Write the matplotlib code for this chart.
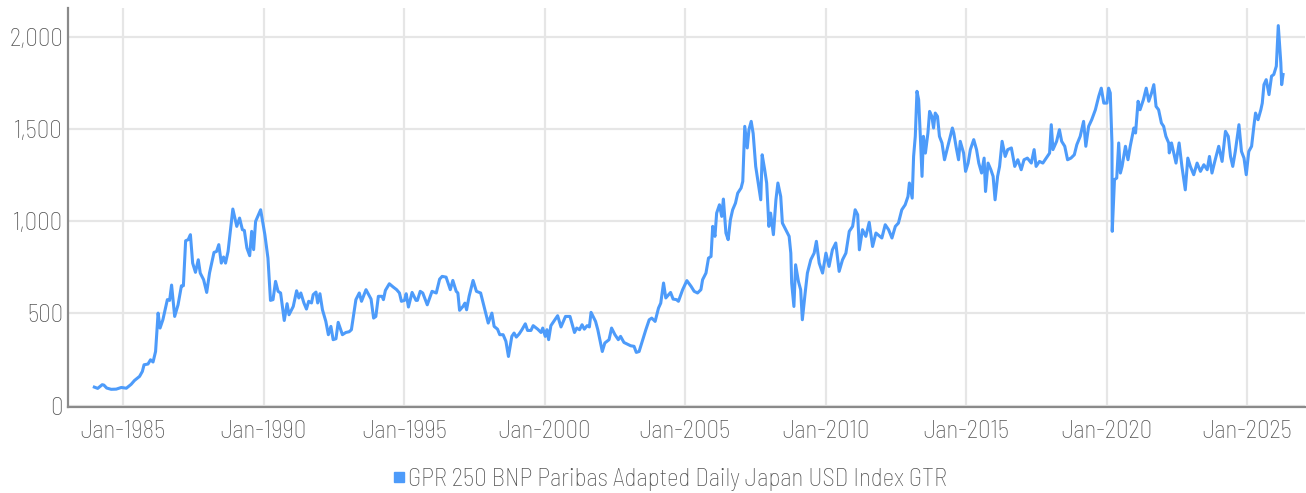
import numpy as np
import matplotlib
matplotlib.use("Agg")
import matplotlib.pyplot as plt
from matplotlib.lines import Line2D

# decimal years and index levels
years = [
    1983.97, 1984.09, 1984.25, 1984.31, 1984.41, 1984.57, 1984.75, 1984.93, 1985.11, 1985.28,
    1985.40, 1985.58, 1985.68, 1985.74, 1985.88, 1985.97, 1986.06, 1986.15, 1986.24, 1986.31,
    1986.41, 1986.57, 1986.65, 1986.72, 1986.83, 1986.95, 1987.07, 1987.14, 1987.22, 1987.31,
    1987.39, 1987.47, 1987.57, 1987.67, 1987.74, 1987.86, 1987.97, 1988.07, 1988.23, 1988.32,
    1988.40, 1988.49, 1988.57, 1988.64, 1988.73, 1988.90, 1989.04, 1989.14, 1989.24, 1989.31,
    1989.40, 1989.50, 1989.57, 1989.64, 1989.71, 1989.89, 1990.04, 1990.15, 1990.24, 1990.33,
    1990.42, 1990.51, 1990.60, 1990.73, 1990.83, 1990.90, 1991.05, 1991.17, 1991.25, 1991.32,
    1991.43, 1991.52, 1991.60, 1991.70, 1991.76, 1991.86, 1991.92, 1992.00, 1992.09, 1992.21,
    1992.30, 1992.39, 1992.47, 1992.57, 1992.65, 1992.80, 1992.92, 1993.04, 1993.12, 1993.28,
    1993.40, 1993.48, 1993.64, 1993.82, 1993.91, 1993.99, 1994.08, 1994.21, 1994.26, 1994.33,
    1994.47, 1994.61, 1994.73, 1994.83, 1994.90, 1995.01, 1995.07, 1995.15, 1995.28, 1995.42,
    1995.47, 1995.57, 1995.66, 1995.82, 1995.99, 1996.14, 1996.26, 1996.35, 1996.49, 1996.64,
    1996.73, 1996.85, 1996.91, 1996.97, 1997.09, 1997.16, 1997.22, 1997.31, 1997.45, 1997.57,
    1997.72, 1997.84, 1997.99, 1998.12, 1998.20, 1998.32, 1998.40, 1998.52, 1998.62, 1998.71,
    1998.83, 1998.91, 1998.99, 1999.09, 1999.19, 1999.31, 1999.39, 1999.51, 1999.59, 1999.75,
    1999.87, 1999.93, 2000.02, 2000.08, 2000.14, 2000.22, 2000.46, 2000.58, 2000.74, 2000.90,
    2001.06, 2001.14, 2001.24, 2001.33, 2001.41, 2001.51, 2001.59, 2001.65, 2001.81, 2001.89,
    2002.05, 2002.14, 2002.29, 2002.38, 2002.50, 2002.62, 2002.70, 2002.82, 2003.06, 2003.18,
    2003.26, 2003.36, 2003.60, 2003.72, 2003.81, 2003.93, 2004.05, 2004.13, 2004.23, 2004.31,
    2004.48, 2004.57, 2004.69, 2004.76, 2004.91, 2005.06, 2005.21, 2005.32, 2005.44, 2005.56,
    2005.62, 2005.74, 2005.83, 2005.92, 2005.98, 2006.06, 2006.12, 2006.22, 2006.30, 2006.36,
    2006.45, 2006.53, 2006.61, 2006.69, 2006.79, 2006.87, 2006.99, 2007.05, 2007.12, 2007.21,
    2007.27, 2007.35, 2007.42, 2007.51, 2007.60, 2007.69, 2007.74, 2007.83, 2007.90, 2007.98,
    2008.04, 2008.14, 2008.23, 2008.30, 2008.40, 2008.46, 2008.58, 2008.70, 2008.76, 2008.79,
    2008.87, 2008.93, 2009.03, 2009.11, 2009.17, 2009.27, 2009.35, 2009.47, 2009.59, 2009.67,
    2009.77, 2009.89, 2010.01, 2010.12, 2010.24, 2010.36, 2010.48, 2010.60, 2010.72, 2010.84,
    2010.96, 2011.05, 2011.14, 2011.20, 2011.31, 2011.43, 2011.55, 2011.67, 2011.79, 2012.00,
    2012.12, 2012.24, 2012.36, 2012.48, 2012.59, 2012.71, 2012.83, 2012.93, 2012.98, 2013.08,
    2013.13, 2013.19, 2013.25, 2013.31, 2013.37, 2013.43, 2013.48, 2013.55, 2013.64, 2013.70,
    2013.78, 2013.84, 2013.90, 2013.98, 2014.05, 2014.14, 2014.23, 2014.32, 2014.51, 2014.56,
    2014.65, 2014.73, 2014.79, 2014.91, 2014.98, 2015.07, 2015.15, 2015.27, 2015.37, 2015.45,
    2015.55, 2015.64, 2015.69, 2015.78, 2015.88, 2015.96, 2016.03, 2016.12, 2016.19, 2016.28,
    2016.39, 2016.48, 2016.61, 2016.73, 2016.84, 2016.96, 2017.06, 2017.18, 2017.32, 2017.42,
    2017.49, 2017.61, 2017.73, 2017.85, 2017.97, 2018.03, 2018.09, 2018.22, 2018.32, 2018.40,
    2018.51, 2018.61, 2018.73, 2018.85, 2018.94, 2019.06, 2019.18, 2019.26, 2019.36, 2019.47,
    2019.60, 2019.72, 2019.81, 2019.90, 2020.01, 2020.07, 2020.13, 2020.19, 2020.20, 2020.28,
    2020.36, 2020.43, 2020.49, 2020.55, 2020.67, 2020.76, 2020.84, 2020.97, 2021.03, 2021.12,
    2021.19, 2021.31, 2021.41, 2021.50, 2021.60, 2021.68, 2021.76, 2021.85, 2021.95, 2022.03,
    2022.11, 2022.21, 2022.23, 2022.31, 2022.47, 2022.58, 2022.68, 2022.80, 2022.89, 2022.98,
    2023.10, 2023.22, 2023.34, 2023.46, 2023.58, 2023.66, 2023.75, 2023.85, 2023.99, 2024.11,
    2024.23, 2024.33, 2024.41, 2024.49, 2024.58, 2024.71, 2024.80, 2024.89, 2024.97, 2025.06,
    2025.16, 2025.24, 2025.30, 2025.39, 2025.49, 2025.54, 2025.60, 2025.68, 2025.78, 2025.87,
    2025.95, 2026.04, 2026.11, 2026.16, 2026.20, 2026.23, 2026.28,
]
values = [
    101, 94, 114, 112, 96, 89, 90, 99, 95, 116,
    137, 159, 186, 222, 226, 249, 237, 294, 502, 421,
    466, 575, 571, 654, 484, 547, 650, 650, 894, 900,
    927, 773, 723, 791, 719, 683, 614, 719, 831, 836,
    873, 773, 806, 773, 836, 1066, 972, 1017, 954, 950,
    855, 813, 945, 846, 999, 1062, 927, 800, 571, 575,
    674, 620, 611, 462, 553, 493, 538, 623, 584, 611,
    557, 524, 566, 557, 602, 616, 557, 607, 520, 457,
    385, 430, 358, 363, 452, 385, 397, 401, 412, 575,
    611, 566, 629, 578, 475, 484, 593, 593, 575, 625,
    661, 643, 629, 611, 566, 571, 607, 535, 614, 571,
    571, 620, 611, 547, 620, 611, 686, 701, 697, 629,
    679, 620, 611, 517, 538, 556, 520, 593, 679, 620,
    611, 538, 448, 502, 430, 415, 385, 385, 349, 267,
    376, 394, 372, 389, 412, 444, 408, 408, 434, 415,
    397, 421, 376, 412, 358, 434, 488, 427, 484, 484,
    397, 421, 412, 439, 415, 434, 427, 506, 457, 412,
    294, 340, 358, 421, 385, 358, 376, 343, 325, 322,
    289, 294, 412, 466, 475, 457, 529, 556, 665, 584,
    614, 578, 575, 566, 629, 678, 647, 620, 611, 629,
    683, 719, 800, 809, 972, 918, 1044, 1089, 1026, 1120,
    936, 900, 1008, 1062, 1098, 1152, 1180, 1216, 1514, 1397,
    1496, 1541, 1475, 1297, 1207, 1116, 1360, 1279, 1207, 972,
    1044, 927, 1116, 1207, 1134, 990, 954, 918, 827, 665,
    538, 764, 674, 629, 466, 611, 719, 791, 827, 891,
    773, 719, 827, 755, 845, 882, 728, 791, 827, 945,
    972, 1062, 1035, 845, 954, 918, 994, 863, 936, 909,
    981, 954, 909, 972, 990, 1062, 1089, 1134, 1207, 1125,
    1351, 1460, 1704, 1658, 1460, 1243, 1460, 1369, 1478, 1595,
    1568, 1505, 1586, 1568, 1460, 1424, 1333, 1388, 1505, 1478,
    1397, 1333, 1433, 1369, 1270, 1315, 1388, 1442, 1388, 1315,
    1261, 1342, 1161, 1315, 1279, 1243, 1116, 1243, 1297, 1433,
    1351, 1388, 1397, 1297, 1333, 1279, 1333, 1342, 1315, 1388,
    1297, 1324, 1315, 1342, 1369, 1523, 1388, 1433, 1496, 1433,
    1406, 1333, 1342, 1360, 1415, 1460, 1541, 1406, 1514, 1550,
    1604, 1677, 1721, 1640, 1640, 1721, 1695, 1424, 945, 1225,
    1234, 1424, 1261, 1297, 1406, 1333, 1406, 1505, 1478, 1650,
    1604, 1659, 1721, 1650, 1695, 1740, 1622, 1604, 1532, 1514,
    1460, 1424, 1370, 1424, 1315, 1424, 1297, 1170, 1342, 1297,
    1252, 1315, 1270, 1306, 1279, 1351, 1261, 1324, 1406, 1324,
    1487, 1460, 1351, 1297, 1378, 1523, 1378, 1342, 1252, 1378,
    1406, 1514, 1586, 1550, 1604, 1640, 1740, 1767, 1686, 1786,
    1795, 1840, 2060, 1948, 1858, 1740, 1795,
]

tick_years = [1985, 1990, 1995, 2000, 2005, 2010, 2015, 2020, 2025]
tick_labels = ["Jan-1985", "Jan-1990", "Jan-1995", "Jan-2000", "Jan-2005",
               "Jan-2010", "Jan-2015", "Jan-2020", "Jan-2025"]
y_ticks = [0, 500, 1000, 1500, 2000]
series_name = "GPR 250 BNP Paribas Adapted Daily Japan USD Index GTR"

line_color = "#4d9bfa"
text_color = "#555555"

plt.rcParams["font.family"] = ["Barlow Semi Condensed", "DejaVu Sans"]
plt.rcParams["font.weight"] = "light"

fig = plt.figure(figsize=(13.06, 4.93), dpi=100)
ax = fig.add_axes([0.052, 0.174, 0.947, 0.81])

ax.plot(years, values, color=line_color, linewidth=2.2, solid_joinstyle="round")

ax.set_xlim(1983.03, 2027.05)
ax.set_ylim(-8, 2156)
ax.set_xticks(tick_years)
ax.set_xticklabels(tick_labels)
ax.set_yticks(y_ticks)
ax.set_yticklabels([f"{v:,}" for v in y_ticks])

ax.grid(True, color="#e6e6e6", linewidth=1.6)
ax.set_axisbelow(True)
ax.tick_params(axis="both", length=0, labelsize=18, labelcolor=text_color)
ax.tick_params(axis="x", pad=9)
ax.tick_params(axis="y", pad=3.5)

for s in ["top", "right"]:
    ax.spines[s].set_visible(False)
ax.spines["left"].set_color("#8a8a8a")
ax.spines["left"].set_linewidth(1.6)
ax.spines["bottom"].set_color("#8a8a8a")
ax.spines["bottom"].set_linewidth(1.6)

handle = Line2D([], [], marker="s", linestyle="none", markersize=7.5,
                markerfacecolor=line_color, markeredgecolor=line_color)
leg = fig.legend([handle], [series_name], loc="center", bbox_to_anchor=(0.512, 0.028),
                 frameon=False, fontsize=18, handletextpad=0.0, handlelength=0.7)
for t in leg.get_texts():
    t.set_color(text_color)

fig.savefig("out.png", dpi=100)
